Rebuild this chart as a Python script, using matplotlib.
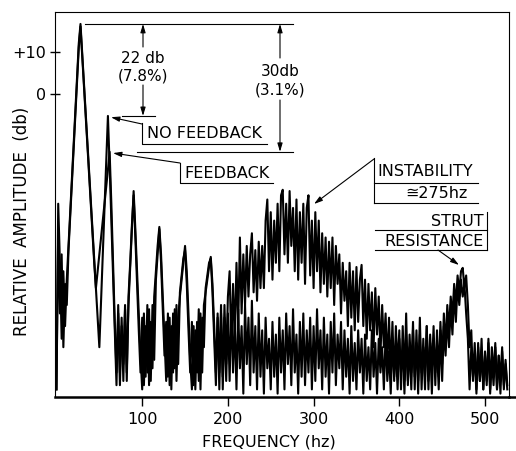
import numpy as np
import matplotlib
matplotlib.use("Agg")
import matplotlib.pyplot as plt

plt.rcParams['font.family'] = ['DejaVu Sans']

# frequency grid (hz), one reading every 2 hz
freq = np.arange(0, 528, 2)

# relative amplitude (db), no feedback trace
no_fb = [
    -70, -26, -40, -58, -42, -55, -44, -36, -28, -20,       # 0-18
    -12, -4, 4, 12, 16.6, 9.6, 2.6, -4.4, -11.4, -18.4,     # 20-38
    -25.4, -32.4, -39.4, -46.4, -53.4, -60, -49, -38, -27, -16,
    -5.2, -17, -30, -43, -56, -69, -50, -66, -53, -68,      # 60-78
    -51, -66, -50, -41, -32, -23, -32, -42, -52, -62,
    -70, -52, -67, -50, -69, -54, -65, -48, -42, -36,       # 100-118
    -31.5, -38, -48, -58, -68, -52, -69, -55, -66, -51,
    -68, -53, -48, -44, -40, -36, -42, -52, -63, -70,       # 140-158
    -55, -70, -54, -68, -52, -66, -50, -47, -44, -41,
    -38.6, -45, -55, -66, -53, -70, -52, -67, -50, -64,     # 180-198
    -48, -42, -60, -45, -58, -40, -55, -34, -52, -38,
    -50, -36, -48, -38, -33, -47, -37, -49, -35, -46,       # 220-238
    -36, -46, -30, -25, -42, -28, -44, -30, -40, -26,
    -42, -24, -22.7, -38, -26, -40, -23, -36, -27, -42,     # 260-278
    -25, -44, -28, -40, -26, -45, -27, -24, -43, -30,
    -46, -28, -42, -30, -47, -33, -45, -34, -48, -35,       # 300-318
    -46, -34, -50, -36, -45, -38, -52, -40, -49, -42,
    -55, -40, -53, -42, -56, -41, -54, -44, -40.5, -55,     # 340-358
    -44, -58, -45, -56, -47, -60, -46, -57, -48, -62,
    -50, -60, -52, -64, -53, -66, -54, -68, -55, -65,       # 380-398
    -56, -70, -55, -68, -52, -69, -57, -66, -54, -70,
    -56, -68, -53, -70, -58, -67, -55, -70, -57, -66,       # 420-438
    -55, -69, -56, -67, -54, -64, -52, -60, -50, -56,
    -48, -53, -45, -50, -43, -47, -42, -41.2, -46, -43,     # 460-478
    -50, -60, -56, -68, -59, -70, -60, -68, -58, -70,
    -61, -69, -58, -70, -60, -67, -59, -70, -62, -68,       # 500-518
    -60, -70, -63, -69,
]

# feedback trace
fb = [
    -70, -32, -52, -38, -60, -45, -50, -37, -29, -21,       # 0-18
    -13, -5, 3, 11, 16, 9, 2, -5, -12, -19,                 # 20-38
    -26, -33, -40, -46, -42, -38, -34, -30, -26, -22,
    -18, -13.7, -26, -40, -54, -66, -52, -69, -55, -64,     # 60-78
    -50, -68, -48, -40, -31, -24, -34, -45, -56, -66,
    -53, -69, -55, -66, -51, -68, -50, -63, -44, -38,       # 100-118
    -32, -40, -51, -62, -54, -67, -53, -70, -52, -65,
    -50, -64, -47, -43, -39, -37, -45, -56, -66, -54,       # 140-158
    -69, -56, -66, -51, -70, -53, -60, -46, -43, -40,
    -39, -47, -58, -69, -52, -66, -50, -70, -53, -68,       # 180-198
    -52, -68, -50, -66, -54, -70, -51, -65, -55, -71,
    -50, -64, -53, -69, -49, -66, -55, -70, -52, -67,       # 220-238
    -56, -71, -53, -65, -58, -70, -54, -67, -57, -71,
    -53, -66, -56, -70, -52, -64, -55, -69, -51, -66,       # 260-278
    -57, -71, -54, -67, -52, -69, -56, -66, -53, -70,
    -55, -68, -51, -65, -56, -70, -53, -67, -57, -71,       # 300-318
    -54, -66, -52, -69, -57, -65, -54, -70, -56, -67,
    -58, -71, -55, -68, -59, -70, -56, -66, -58, -71,       # 340-358
    -57, -68, -60, -70, -56, -67, -59, -71, -58, -66,
    -60, -70, -57, -68, -61, -71, -58, -67, -60, -70,       # 380-398
    -58, -66, -61, -71, -57, -68, -60, -70, -56, -67,
    -59, -71, -57, -66, -60, -70, -55, -68, -59, -71,       # 420-438
    -58, -66, -60, -70, -56, -68, -55, -62, -53, -60,
    -50, -57, -47, -54, -45, -50, -44, -48, -45, -52,       # 460-478
    -58, -70, -60, -67, -62, -71, -59, -68, -61, -70,
    -62, -68, -59, -71, -63, -69, -60, -70, -62, -71,       # 500-518
    -61, -69, -64, -70,
]

xticks = [100, 200, 300, 400, 500]
yticks = [0, 10]
ytick_labels = ['0', '+10']

W, H = 516, 451


# layout helpers: pixel position on the scan -> data units
def hz(px):
    return (px - 56.5) / 0.857


def dbv(py):
    return (94 - py) / 4.22


fig = plt.figure(figsize=(W / 100, H / 100), dpi=100)
ax = fig.add_axes([55 / W, 1 - 397 / H, (509 - 55) / W, (397 - 12) / H])
ax.set_xlim(hz(55), hz(509))
ax.set_ylim(dbv(397), dbv(12))

ax.plot(freq, no_fb, color='k', lw=1.5)
ax.plot(freq, fb, color='k', lw=1.5)

for s in ax.spines.values():
    s.set_linewidth(0.8)
ax.spines['bottom'].set_linewidth(1.8)
ax.plot([hz(509), hz(515)], [dbv(397)] * 2, color='k', lw=1.8, clip_on=False)

ax.set_xticks(xticks)
ax.set_xticklabels([str(t) for t in xticks], fontsize=11.5)
ax.tick_params(axis='x', direction='out', length=6.5, width=1, pad=4)
ax.set_yticks(yticks)
ax.set_yticklabels(ytick_labels, fontsize=11.5)
ax.tick_params(axis='y', direction='inout', length=7, width=1, pad=3)

fig.text(22 / W, 1 - 221 / H, 'RELATIVE  AMPLITUDE  (db)', rotation=90,
         ha='center', va='center', fontsize=12)
fig.text(269 / W, 1 - 442 / H, 'FREQUENCY (hz)', ha='center', va='center',
         fontsize=11.5)

# reference levels taken from the traces
top = max(no_fb)
nofb_pk = max(v for f, v in zip(freq, no_fb) if 50 <= f <= 70)
fb_pk = max(v for f, v in zip(freq, fb) if 50 <= f <= 70)

lk = dict(color='k', lw=0.8)
ax.plot([hz(85), hz(293)], [top, top], **lk)
ax.plot([hz(122), hz(155)], [nofb_pk, nofb_pk], **lk)
ax.plot([hz(137), hz(293)], [fb_pk, fb_pk], **lk)

arr = dict(arrowstyle='-|>,head_length=0.5,head_width=0.15', color='k', lw=0.8,
           shrinkA=0, shrinkB=0)

# 22 db span
ax.annotate('', xy=(hz(143), top), xytext=(hz(143), dbv(47)), arrowprops=arr)
ax.annotate('', xy=(hz(143), nofb_pk), xytext=(hz(143), dbv(85)), arrowprops=arr)
ax.text(hz(143), dbv(67), '22 db\n(7.8%)', ha='center', va='center',
        fontsize=11, linespacing=1.2)

# 30 db span
ax.annotate('', xy=(hz(280), top), xytext=(hz(280), dbv(58)), arrowprops=arr)
ax.annotate('', xy=(hz(280), fb_pk), xytext=(hz(280), dbv(100)), arrowprops=arr)
ax.text(hz(280), dbv(81), '30db\n(3.1%)', ha='center', va='center',
        fontsize=11, linespacing=1.3)

# NO FEEDBACK label
ax.plot([hz(142), hz(142), hz(267)], [dbv(123), dbv(144), dbv(144)], **lk)
ax.text(hz(147), dbv(134), 'NO FEEDBACK', ha='left', va='center', fontsize=11.5)
ax.annotate('', xy=(hz(111), nofb_pk - 0.3), xytext=(hz(142), dbv(124)),
            arrowprops=arr)

# FEEDBACK label
ax.plot([hz(180), hz(180), hz(273)], [dbv(163), dbv(183), dbv(183)], **lk)
ax.text(hz(184), dbv(173), 'FEEDBACK', ha='left', va='center', fontsize=11.5)
ax.annotate('', xy=(hz(113), fb_pk - 0.3), xytext=(hz(180), dbv(163)),
            arrowprops=arr)

# INSTABILITY label
ax.plot([hz(374), hz(374)], [dbv(158), dbv(203)], **lk)
ax.plot([hz(374), hz(478)], [dbv(183), dbv(183)], **lk)
ax.plot([hz(374), hz(478)], [dbv(203), dbv(203)], **lk)
ax.text(hz(377), dbv(172), 'INSTABILITY', ha='left', va='center', fontsize=11.5)
ax.text(hz(436), dbv(193), '\u2245275hz', ha='center', va='center', fontsize=11.5)
ax.annotate('', xy=(hz(314), dbv(204)), xytext=(hz(374), dbv(159)),
            arrowprops=arr)

# STRUT RESISTANCE label
ax.plot([hz(487), hz(487)], [dbv(212), dbv(250)], **lk)
ax.plot([hz(375), hz(487)], [dbv(230), dbv(230)], **lk)
ax.plot([hz(375), hz(487)], [dbv(250), dbv(250)], **lk)
ax.text(hz(484), dbv(221), 'STRUT', ha='right', va='center', fontsize=11.5)
ax.text(hz(484), dbv(241), 'RESISTANCE', ha='right', va='center', fontsize=11.5)
ax.annotate('', xy=(hz(459), dbv(265)), xytext=(hz(438), dbv(250)),
            arrowprops=arr)

fig.savefig('out.png', dpi=100)
